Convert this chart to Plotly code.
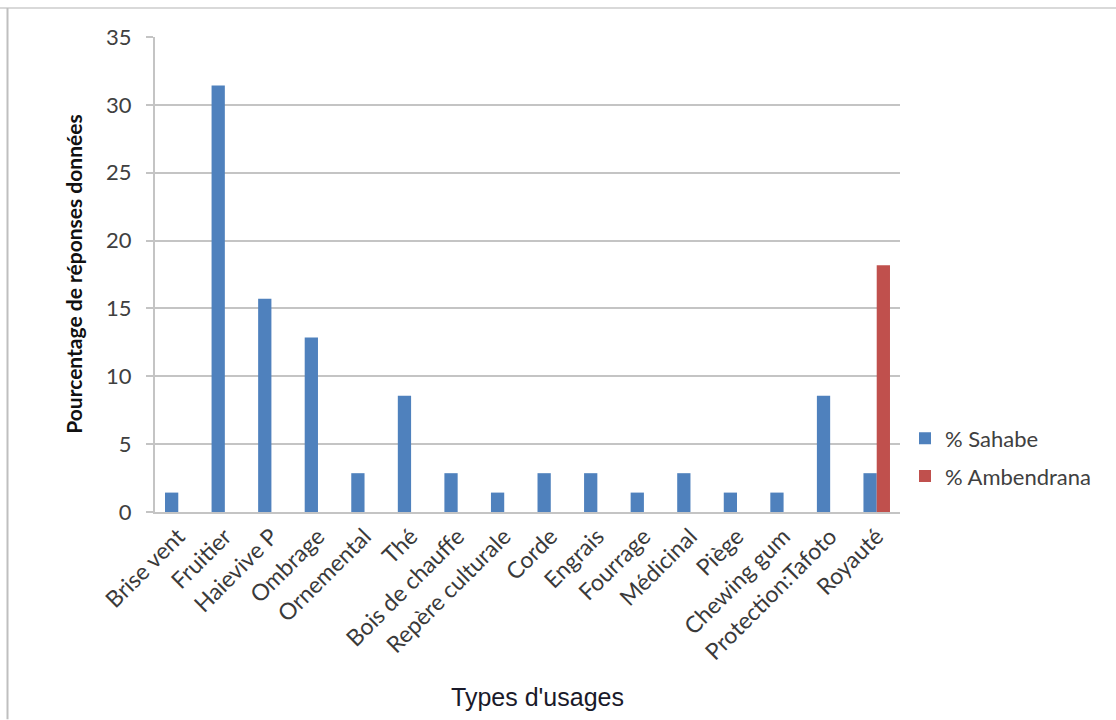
import plotly.graph_objects as go

# Usage categories and percentage of answers per site
categories = [
    "Brise vent", "Fruitier", "Haievive P", "Ombrage", "Ornemental", "Thé",
    "Bois de chauffe", "Repère culturale", "Corde", "Engrais", "Fourrage",
    "Médicinal", "Piège", "Chewing gum", "Protection:Tafoto", "Royauté",
]
sahabe = [1.43, 31.43, 15.71, 12.86, 2.86, 8.57, 2.86, 1.43, 2.86, 2.86,
          1.43, 2.86, 1.43, 1.43, 8.57, 2.86]
ambendrana = [0, 0, 0, 0, 0, 0, 0, 0, 0, 0, 0, 0, 0, 0, 0, 18.18]
y_ticks = [0, 5, 10, 15, 20, 25, 30, 35]

W, H = 1116, 720
L, R, T, B = 155, 900, 37, 512.5

BODY_FONT = "Lato, Calibri, Carlito, sans-serif"
GRID = "#c4c4c4"

fig = go.Figure()
fig.add_trace(go.Bar(x=categories, y=sahabe, name="% Sahabe",
                     marker=dict(color="#4f81bd", line=dict(width=0)),
                     legendgroup="a"))
fig.add_trace(go.Bar(x=categories, y=ambendrana, name="% Ambendrana",
                     marker=dict(color="#c0504d", line=dict(width=0)),
                     legendgroup="b"))


def px_x(v):
    return (v - L) / (R - L)


def px_y(v):
    return (B - v) / (B - T)


fig.update_layout(
    width=W, height=H,
    margin=dict(l=L, r=W - R, t=T, b=H - B, pad=0),
    paper_bgcolor="white", plot_bgcolor="white",
    barmode="group", bargap=0.43, bargroupgap=0,
    font=dict(family=BODY_FONT, color="#404040", size=16),
    showlegend=True,
    legend=dict(
        x=px_x(905), y=px_y(458), xanchor="left", yanchor="middle",
        font=dict(family=BODY_FONT, size=22, color="#404040"),
        tracegroupgap=6, traceorder="grouped",
        bgcolor="rgba(0,0,0,0)",
    ),
    xaxis=dict(
        type="category", tickangle=-45,
        tickfont=dict(family=BODY_FONT, size=23, color="#3a3a3a"),
        showline=True, linecolor=GRID, linewidth=2,
        showgrid=False, ticks="", fixedrange=True,
    ),
    yaxis=dict(
        range=[0, 35], tickvals=y_ticks,
        tickfont=dict(family=BODY_FONT, size=22, color="#404040"),
        ticklabelstandoff=10,
        showgrid=True, gridcolor=GRID, gridwidth=1.5,
        showline=True, linecolor=GRID, linewidth=2,
        ticks="outside", ticklen=7, tickcolor=GRID, tickwidth=1.5,
        zeroline=False, fixedrange=True,
    ),
    shapes=[
        # outer chart frame (top and left edges)
        dict(type="line", xref="paper", yref="paper",
             x0=px_x(0), x1=px_x(W), y0=px_y(8), y1=px_y(8),
             line=dict(color="#d9d9d9", width=2)),
        dict(type="line", xref="paper", yref="paper",
             x0=px_x(7.5), x1=px_x(7.5), y0=px_y(8), y1=px_y(H),
             line=dict(color="#bfbfbf", width=2)),
    ],
    annotations=[
        dict(text="<b>Pourcentage de réponses données</b>", textangle=-90,
             xref="paper", yref="paper", x=px_x(74), y=px_y(275),
             xanchor="center", yanchor="middle", showarrow=False,
             font=dict(family=BODY_FONT, size=21, color="#111111")),
        dict(text="Types d'usages",
             xref="paper", yref="paper", x=px_x(537), y=px_y(698),
             xanchor="center", yanchor="middle", showarrow=False,
             font=dict(family="Liberation Sans, Arial, sans-serif",
                       size=25, color="#1a1a2a")),
    ],
)

fig.write_html("out.html")
